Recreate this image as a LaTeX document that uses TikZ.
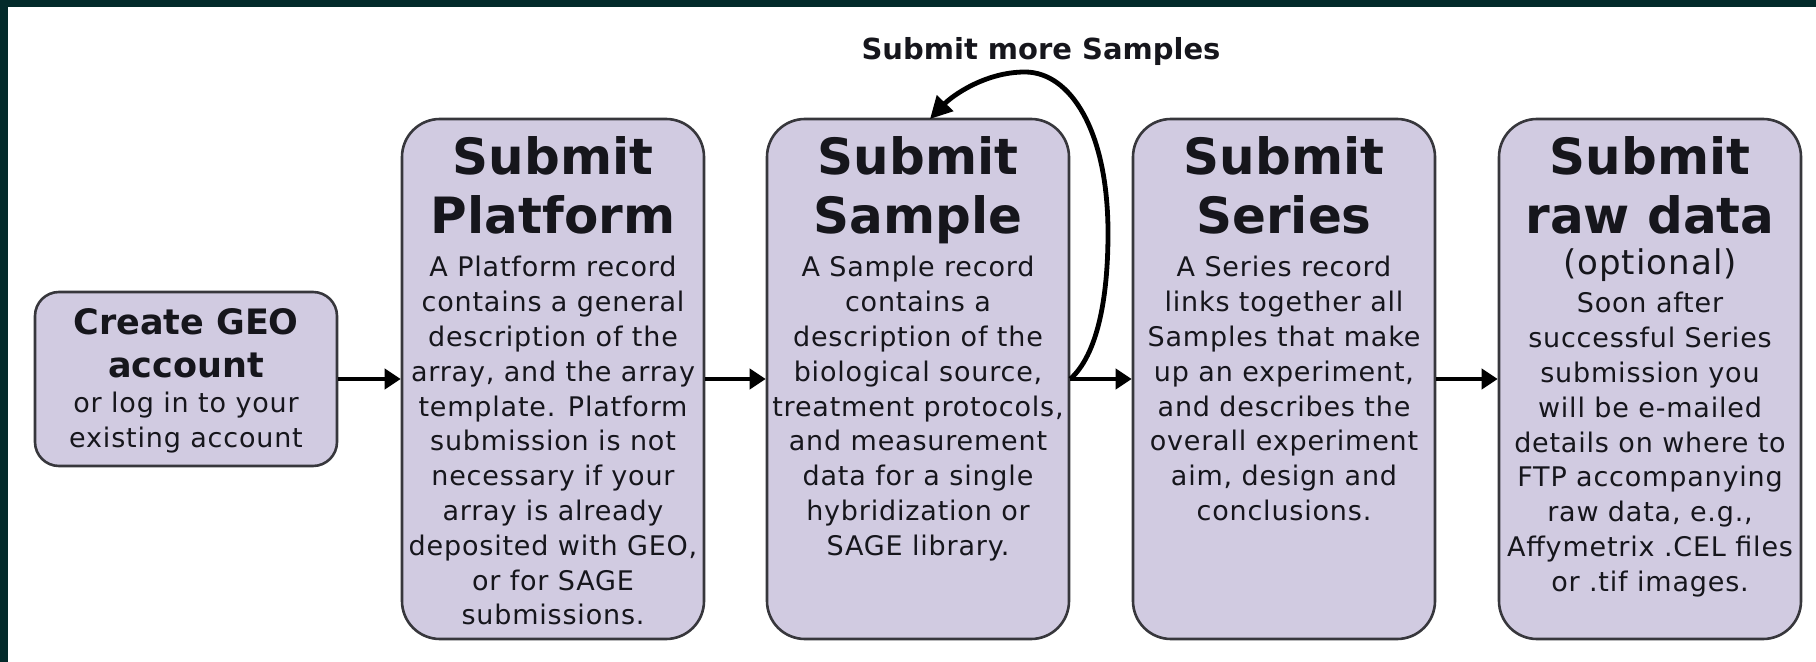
\documentclass[tikz,border=0pt]{standalone}
\usepackage{fontspec}
\setmainfont{DejaVu Sans}
\newfontfamily\bodyfont[LetterSpace=3]{DejaVu Sans}
\usetikzlibrary{arrows.meta}
\definecolor{framecol}{RGB}{3,42,42}
\definecolor{boxfill}{RGB}{209,203,225}
\definecolor{boxline}{RGB}{55,55,60}
\definecolor{ink}{RGB}{22,22,28}
\newcommand\mytab[1]{\begin{tabular}[t]{@{}c@{}}#1\end{tabular}}
\begin{document}
\begin{tikzpicture}[x=0.5pt,y=-0.5pt,
  box/.style={draw=boxline, line width=1.3pt, fill=boxfill, rounded corners=19pt,
    minimum width=151pt, minimum height=260pt, inner sep=0pt},
  smallbox/.style={box, rounded corners=12pt, minimum height=87pt},
  ttl/.style={anchor=base, inner sep=0pt, text=ink, font=\bfseries\fontsize{25}{29.5}\selectfont},
  bdy/.style={anchor=base, inner sep=0pt, text=ink, font=\bodyfont\fontsize{13.5}{17.4}\selectfont},
  arr/.style={line width=2pt, -{Triangle[length=8pt,width=10pt]}},
  looparr/.style={line width=2.4pt, -{Triangle[length=11pt,width=11pt]}},
  lbl/.style={anchor=base, inner sep=0pt, text=ink, font=\bfseries\fontsize{14.5}{17}\selectfont}
]
\useasboundingbox (0,0) rectangle (1816,662);
\fill[white] (0,0) rectangle (1816,662);
\fill[framecol] (0,0) rectangle (1816,7);
\fill[framecol] (0,0) rectangle (8,662);

% boxes
\node[smallbox] (b1) at (186,379) {};
\node[box] (b2) at (553,379) {};
\node[box] (b3) at (918,379) {};
\node[box] (b4) at (1284,379) {};
\node[box] (b5) at (1650,379) {};

% box 1
\node[ttl, font=\bfseries\fontsize{17.5}{21.5}\selectfont] (t1) at (186,335) {\mytab{Create GEO\\account}};
\node[bdy] (d1) at (186,413) {\mytab{or log in to your\\existing account}};

% box 2
\node[ttl] (t2) at (553,175) {\mytab{Submit\\Platform}};
\node[bdy] (d2) at (553,277) {\mytab{A Platform record\\contains a general\\description of the\\array, and the array\\template. Platform\\submission is not\\necessary if your\\array is already\\deposited with GEO,\\or for SAGE\\submissions.}};

% box 3
\node[ttl] (t3) at (918,175) {\mytab{Submit\\Sample}};
\node[bdy] (d3) at (918,277) {\mytab{A Sample record\\contains a\\description of the\\biological source,\\treatment protocols,\\and measurement\\data for a single\\hybridization or\\SAGE library.}};

% box 4
\node[ttl] (t4) at (1284,175) {\mytab{Submit\\Series}};
\node[bdy] (d4) at (1284,277) {\mytab{A Series record\\links together all\\Samples that make\\up an experiment,\\and describes the\\overall experiment\\aim, design and\\conclusions.}};

% box 5
\node[ttl] (t5) at (1650,175) {\mytab{Submit\\raw data}};
\node[bdy, font=\bodyfont\fontsize{17}{20}\selectfont] (o5) at (1650,275) {(optional)};
\node[bdy] (d5) at (1650,313) {\mytab{Soon after\\successful Series\\submission you\\will be e-mailed\\details on where to\\FTP accompanying\\raw data, e.g.,\\Affymetrix .CEL files\\or .tif images.}};

% arrows
\draw[arr] (b1.east) -- (b2.west);
\draw[arr] (b2.east) -- (b3.west);
\draw[arr] (b3.east) -- (b4.west);
\draw[arr] (b4.east) -- (b5.west);

% loop
\coordinate (lpend) at (930,119);
\draw[looparr] (b3.east) .. controls (1097,355) and (1108,300) .. (1108,233)
  .. controls (1108,130) and (1070,72) .. (1025,72)
  .. controls (985,72) and (952,96) .. (lpend);
\node[lbl] (lab) at (1041,60) {Submit more Samples};
\end{tikzpicture}
\end{document}
